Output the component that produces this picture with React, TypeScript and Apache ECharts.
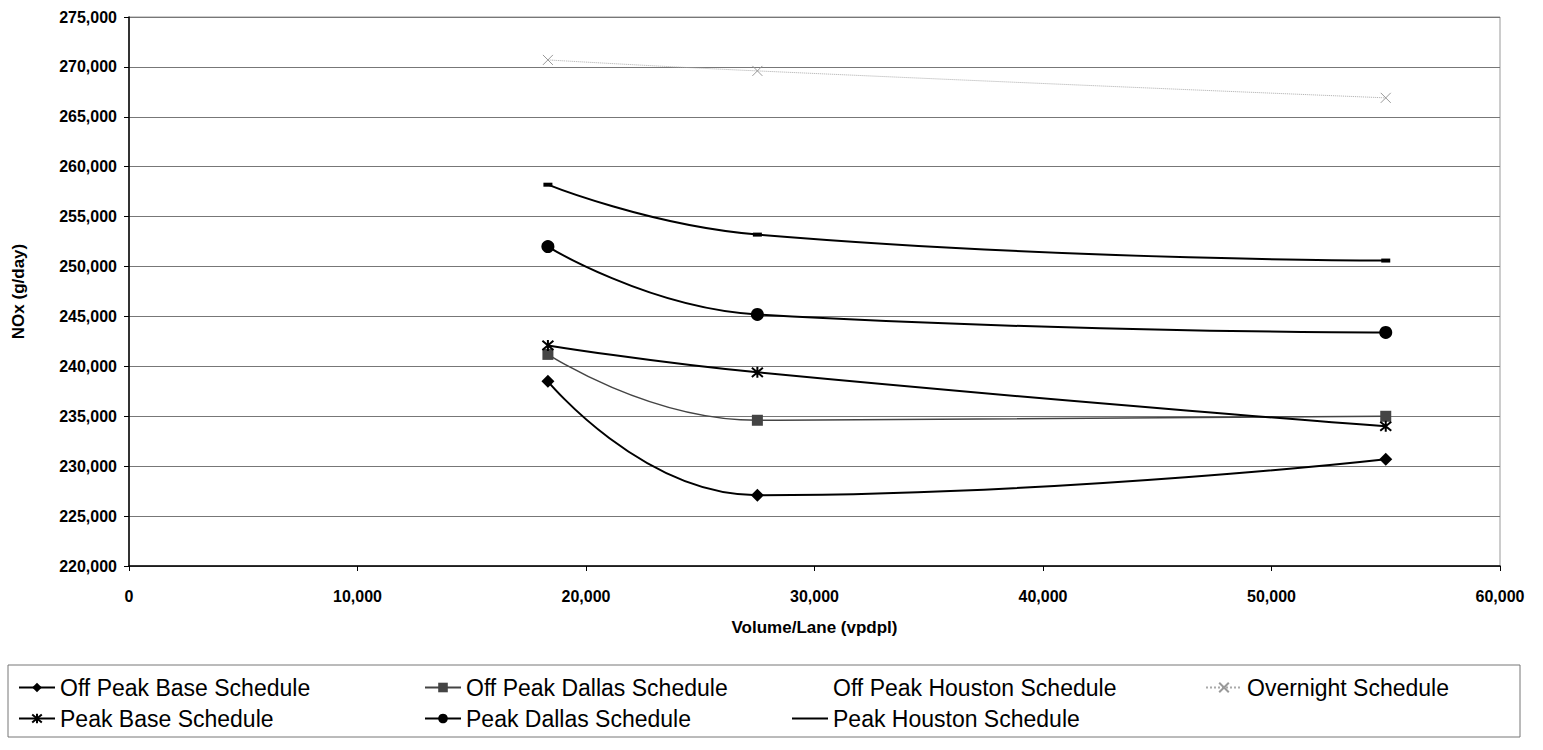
import React, { useEffect, useRef } from "react";
import * as echarts from "echarts";

// Volume per lane (vpdpl) at which each schedule was evaluated
const volume = [18333, 27500, 55000];

// NOx emissions (g/day) per schedule
const offPeakBase = [238500, 227100, 230700];
const offPeakDallas = [241200, 234600, 235000];
const offPeakHouston: number[] = [];
const overnight = [270700, 269600, 266900];
const peakBase = [242100, 239400, 234000];
const peakDallas = [252000, 245200, 243400];
const peakHouston = [258200, 253200, 250600];

const seriesNames = [
  "Off Peak Base Schedule",
  "Off Peak Dallas Schedule",
  "Off Peak Houston Schedule",
  "Overnight Schedule",
  "Peak Base Schedule",
  "Peak Dallas Schedule",
  "Peak Houston Schedule",
];

const FONT = "'Liberation Sans', Arial, Helvetica, sans-serif";

const ASTERISK = "path://M0,0L10,10M10,0L0,10M5,-1L5,11";
const CROSS = "path://M0,0L10,10M10,0L0,10";

const pairs = (ys: number[]) => ys.map((y, i) => [volume[i], y]);
const thousands = (v: number) => v.toLocaleString("en-US");

export default function App() {
  const ref = useRef<HTMLDivElement>(null);

  useEffect(() => {
    if (!ref.current) return;
    const chart = echarts.init(ref.current, null, { renderer: "svg" });

    const base = {
      type: "line" as const,
      smooth: 0.5,
      showAllSymbol: true,
    };

    const series = [
      {
        ...base,
        name: seriesNames[0],
        data: pairs(offPeakBase),
        symbol: "diamond",
        symbolSize: 13,
        lineStyle: { color: "#000", width: 2 },
        itemStyle: { color: "#000" },
      },
      {
        ...base,
        name: seriesNames[1],
        data: pairs(offPeakDallas),
        symbol: "rect",
        symbolSize: 11,
        lineStyle: { color: "#444", width: 1.5 },
        itemStyle: { color: "#444" },
      },
      {
        ...base,
        name: seriesNames[2],
        data: pairs(offPeakHouston),
        symbol: "none",
        lineStyle: { color: "rgba(0,0,0,0)", width: 0 },
        itemStyle: { color: "rgba(0,0,0,0)" },
      },
      {
        ...base,
        name: seriesNames[3],
        data: pairs(overnight),
        symbol: CROSS,
        symbolSize: 10,
        lineStyle: { color: "#aaa", width: 1, type: "dotted" },
        itemStyle: { color: "none", borderColor: "#999", borderWidth: 1 },
      },
      {
        ...base,
        name: seriesNames[4],
        data: pairs(peakBase),
        symbol: ASTERISK,
        symbolSize: 11,
        lineStyle: { color: "#000", width: 2 },
        itemStyle: { color: "none", borderColor: "#000", borderWidth: 2 },
      },
      {
        ...base,
        name: seriesNames[5],
        data: pairs(peakDallas),
        symbol: "circle",
        symbolSize: 13,
        lineStyle: { color: "#000", width: 2 },
        itemStyle: { color: "#000" },
      },
      {
        ...base,
        name: seriesNames[6],
        data: pairs(peakHouston),
        symbol: "rect",
        symbolSize: [9, 4],
        lineStyle: { color: "#000", width: 2 },
        itemStyle: { color: "#000" },
      },
    ];

    // legend laid out in a 4-column, 2-row table
    const colX = [13, 419, 787, 1200];
    const rowY = [671, 702];
    const legends = seriesNames.map((name, i) => ({
      data: [name],
      left: colX[i % 4],
      top: rowY[Math.floor(i / 4)],
      itemWidth: 36,
      itemHeight: name === "Peak Houston Schedule" ? 2 : 12,
      icon: name === "Peak Houston Schedule" ? "rect" : undefined,
      itemGap: 3,
      textStyle: { fontFamily: FONT, fontSize: 23, color: "#000" },
      selectedMode: false,
    }));

    chart.setOption({
      animation: false,
      backgroundColor: "#fff",
      textStyle: { fontFamily: FONT },
      grid: {
        left: 129,
        right: 43,
        top: 17,
        bottom: 184,
        show: true,
        borderColor: "#999",
        borderWidth: 1,
      },
      legend: legends,
      graphic: [
        {
          type: "rect",
          shape: { x: 8, y: 665, width: 1512, height: 72 },
          style: { fill: "none", stroke: "#777", lineWidth: 1 },
          silent: true,
        },
      ],
      xAxis: {
        type: "value",
        min: 0,
        max: 60000,
        interval: 10000,
        name: "Volume/Lane (vpdpl)",
        nameLocation: "middle",
        nameGap: 53,
        nameTextStyle: { fontFamily: FONT, fontSize: 17, fontWeight: "bold", color: "#000" },
        axisLine: { show: true, lineStyle: { color: "#000", width: 1.5 } },
        axisTick: { show: true, length: 5, lineStyle: { color: "#000" } },
        axisLabel: {
          fontFamily: FONT,
          fontSize: 16,
          fontWeight: "bold",
          color: "#000",
          margin: 22,
          formatter: thousands,
        },
        splitLine: { show: false },
      },
      yAxis: {
        type: "value",
        min: 220000,
        max: 275000,
        interval: 5000,
        name: "NOx (g/day)",
        nameLocation: "middle",
        nameGap: 102,
        nameTextStyle: { fontFamily: FONT, fontSize: 17, fontWeight: "bold", color: "#000" },
        axisLine: { show: true, lineStyle: { color: "#000", width: 1.5 } },
        axisTick: { show: true, length: 5, lineStyle: { color: "#000" } },
        axisLabel: {
          fontFamily: FONT,
          fontSize: 16,
          fontWeight: "bold",
          color: "#000",
          margin: 12,
          formatter: thousands,
        },
        splitLine: { show: true, lineStyle: { color: "#777", width: 1.2 } },
      },
      series,
    });

    return () => chart.dispose();
  }, []);

  return (
    <div
      ref={ref}
      style={{ position: "fixed", left: 0, top: 0, width: 1543, height: 750, background: "#fff" }}
    />
  );
}
